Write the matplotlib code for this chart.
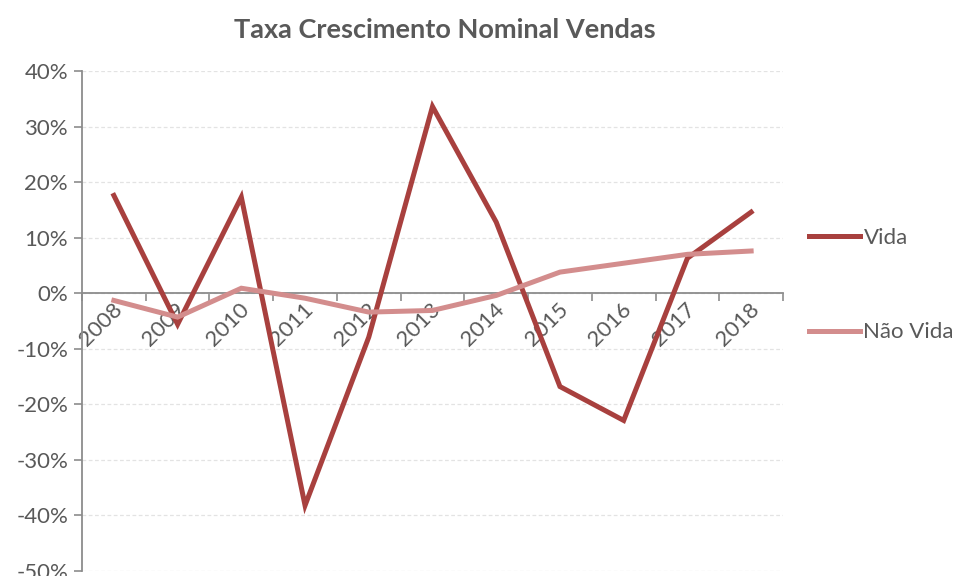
import matplotlib
matplotlib.use('Agg')
import matplotlib.pyplot as plt
from matplotlib.ticker import FixedLocator, FuncFormatter

plt.rcParams['font.family'] = ['Lato', 'DejaVu Sans']

# -------------------------
# Data
# -------------------------
years = ['2008', '2009', '2010', '2011', '2012', '2013', '2014', '2015', '2016', '2017', '2018']
vida = [17.6, -5.6, 17.3, -38.2, -7.9, 33.6, 12.8, -16.8, -22.9, 6.3, 14.6]
nao_vida = [-1.3, -4.3, 0.9, -0.9, -3.4, -3.1, -0.4, 3.8, 5.4, 7.0, 7.6]

title = 'Taxa Crescimento Nominal Vendas'
text_color = '#595959'
axis_color = '#8c8c8c'
grid_color = '#e3e3e3'
vida_color = '#A8403E'
nao_vida_color = '#D38D8D'

# -------------------------
# Figure
# -------------------------
W, H = 955, 576
fig = plt.figure(figsize=(W / 100, H / 100), dpi=100)
ax = fig.add_axes([82 / W, 5 / H, (783 - 82) / W, (571 - 71) / H])

x = list(range(len(years)))
ax.plot(x, vida, color=vida_color, lw=3.6, label='Vida', solid_joinstyle='miter', zorder=3)
ax.plot(x, nao_vida, color=nao_vida_color, lw=3.6, label='Não Vida', solid_joinstyle='miter', zorder=3)

ax.set_xlim(-0.5, len(years) - 0.5)
ax.set_ylim(-50, 40)

# y axis
ax.set_yticks(range(-50, 41, 10))
ax.yaxis.set_major_formatter(FuncFormatter(lambda v, p: f'{int(v)}%'))
ax.tick_params(axis='y', length=6, width=1.2, color=axis_color, labelcolor=text_color,
               labelsize=16, pad=4)
ax.grid(axis='y', color=grid_color, lw=0.9, ls=(0, (3, 2)), zorder=0)

# x axis through zero, ticks between categories
ax.spines['bottom'].set_position(('data', 0))
ax.spines['bottom'].set_color(axis_color)
ax.spines['bottom'].set_linewidth(1.3)
ax.spines['left'].set_color(axis_color)
ax.spines['left'].set_linewidth(1.3)
ax.spines['top'].set_visible(False)
ax.spines['right'].set_visible(False)

ax.xaxis.set_major_locator(FixedLocator(x))
ax.xaxis.set_minor_locator(FixedLocator([i - 0.5 for i in range(len(years) + 1)]))
ax.set_xticklabels(years)
ax.tick_params(axis='x', which='major', length=0, labelsize=16, labelcolor=text_color, pad=6)
ax.tick_params(axis='x', which='minor', length=6, width=1.2, color=axis_color)
for lbl in ax.get_xticklabels():
    lbl.set_rotation(45)
    lbl.set_ha('right')
    lbl.set_va('center')
    lbl.set_rotation_mode('anchor')
    lbl.set_transform(lbl.get_transform() + matplotlib.transforms.ScaledTranslation(0.05, -0.05, fig.dpi_scale_trans))

fig.text(445 / W, 1 - 30 / H, title, ha='center', va='center', fontsize=19.5,
         fontweight='bold', color=text_color)

leg = fig.legend(loc='upper left', bbox_to_anchor=(809 / W, 1 - 228 / H), frameon=False,
                 fontsize=16, labelcolor=text_color, handlelength=2.3, handletextpad=0.15,
                 labelspacing=3.35, borderpad=0, borderaxespad=0)

fig.savefig('out.png', dpi=100)
